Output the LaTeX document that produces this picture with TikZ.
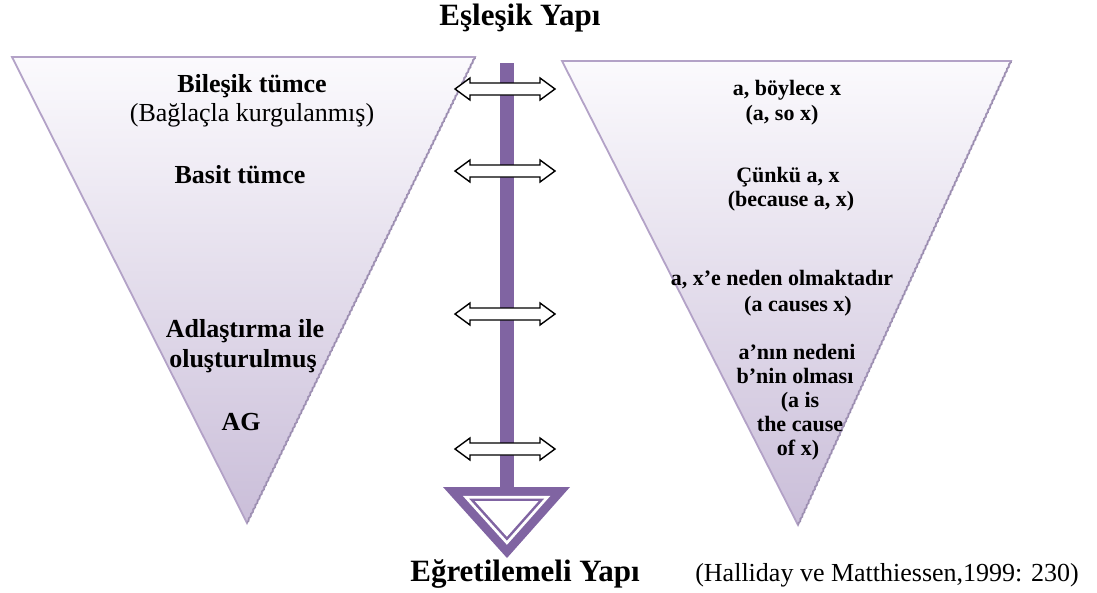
\documentclass[tikz,border=0pt]{standalone}
\usepackage{fontspec}
\setmainfont{Liberation Serif}
\usetikzlibrary{calc,decorations.pathmorphing}

\definecolor{barpurple}{HTML}{8064A2}
\definecolor{edgepurple}{HTML}{B3A2C7}
\definecolor{fadetop}{HTML}{FBFAFD}
\definecolor{fadebottom}{HTML}{CABED9}
\definecolor{shadeedge}{HTML}{9A8EAE}

\tikzset{
  funnel/.style={draw=edgepurple, line width=1.8pt, top color=fadetop,
    bottom color=fadebottom, line join=miter},
  rimedge/.style={draw=shadeedge, line width=1pt, decorate,
    decoration={zigzag, segment length=5pt, amplitude=0.9pt}},
  bigtitle/.style={font=\fontsize{31}{36}\selectfont\bfseries, anchor=base, inner sep=0pt},
  lefttxt/.style={font=\fontsize{26}{30}\selectfont\bfseries, anchor=base, inner sep=0pt},
  leftplain/.style={font=\fontsize{26}{30}\selectfont, anchor=base, inner sep=0pt},
  righttxt/.style={font=\fontsize{22}{26}\selectfont\bfseries, anchor=base, inner sep=0pt},
  citetxt/.style={font=\fontsize{26}{30}\selectfont, anchor=base, inner sep=0pt},
  twoway/.pic={
    \draw[fill=white, draw=black, line width=1.4pt, line join=miter]
      (-50,0) -- (-35,-11) -- (-35,-6) -- (35,-6) -- (35,-11) -- (50,0)
      -- (35,11) -- (35,6) -- (-35,6) -- (-35,11) -- cycle;
  }
}

\begin{document}
\begin{tikzpicture}[x=1pt, y=-1pt]
  \useasboundingbox (0,0) rectangle (1097,592);

  % left funnel
  \coordinate (LA) at (12,57);
  \coordinate (LB) at (475,57);
  \coordinate (LC) at (247,523);
  \path[funnel] (LA) -- (LB) -- (LC) -- cycle;
  \draw[rimedge] (LB) -- (LC);

  % right funnel
  \coordinate (RA) at (562,61);
  \coordinate (RB) at (1011,61);
  \coordinate (RC) at (798,525);
  \path[funnel] (RA) -- (RB) -- (RC) -- cycle;
  \draw[rimedge] (RB) -- (RC);

  % central axis
  \fill[barpurple] (500,63) rectangle (514,492);

  % hollow arrow head at the bottom of the axis
  \coordinate (HA) at (443,487);
  \coordinate (HB) at (570,487);
  \coordinate (HC) at (507,558);
  \coordinate (HI) at (506.8,515.4);
  \fill[barpurple] (HA) -- (HB) -- (HC) -- cycle;
  \fill[white] ($(HI)!0.69!(HA)$) -- ($(HI)!0.69!(HB)$) -- ($(HI)!0.69!(HC)$) -- cycle;
  \fill[barpurple] ($(HI)!0.59!(HA)$) -- ($(HI)!0.59!(HB)$) -- ($(HI)!0.59!(HC)$) -- cycle;
  \fill[white] ($(HI)!0.50!(HA)$) -- ($(HI)!0.50!(HB)$) -- ($(HI)!0.50!(HC)$) -- cycle;

  % two-way arrows across the axis
  \pic at (505,89) {twoway};
  \pic at (505,171) {twoway};
  \pic at (505,314) {twoway};
  \pic at (505,449) {twoway};

  % headings
  \node[bigtitle] (top) at (520,25) {Eşleşik Yapı};
  \node[bigtitle] (bottom) at (525,581) {Eğretilemeli Yapı};
  \node[citetxt] (source) at (887,581) {(Halliday ve Matthiessen,1999: 230)};

  % left funnel labels
  \node[lefttxt] (l1) at (252,92) {Bileşik tümce};
  \node[leftplain] (l2) at (252,121) {(Bağlaçla kurgulanmış)};
  \node[lefttxt] (l3) at (240,183) {Basit tümce};
  \node[lefttxt] (l4) at (245,337) {Adlaştırma ile};
  \node[lefttxt] (l5) at (243,367) {oluşturulmuş};
  \node[lefttxt] (l6) at (241,430) {AG};

  % right funnel labels
  \node[righttxt] (r1) at (787,95) {a, böylece x};
  \node[righttxt] (r2) at (782,120) {(a, so x)};
  \node[righttxt] (r3) at (788,182) {Çünkü a, x};
  \node[righttxt] (r4) at (791,206) {(because a, x)};
  \node[righttxt] (r5) at (782,285) {a, x’e neden olmaktadır};
  \node[righttxt] (r6) at (798,311) {(a causes x)};
  \node[righttxt] (r7) at (797,359) {a’nın nedeni};
  \node[righttxt] (r8) at (795,383) {b’nin olması};
  \node[righttxt] (r9) at (800,407) {(a is};
  \node[righttxt] (r10) at (800,431) {the cause};
  \node[righttxt] (r11) at (798,455) {of x)};
\end{tikzpicture}
\end{document}
